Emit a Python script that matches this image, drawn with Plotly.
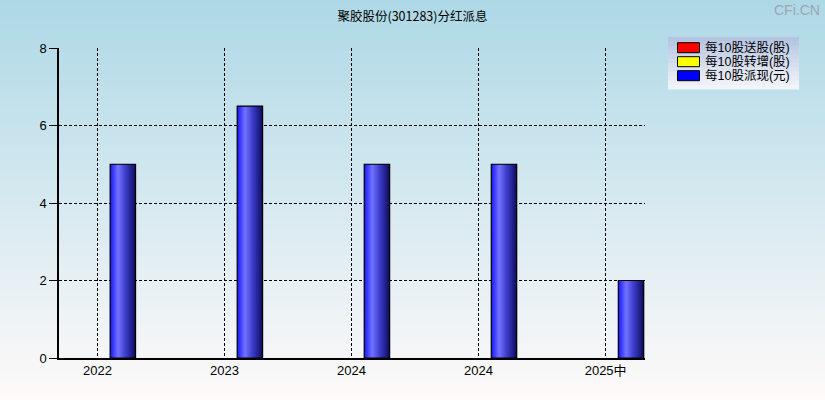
import plotly.graph_objects as go

# ---- data ----
categories = ["2022", "2023", "2024", "2024", "2025中"]
song_gu = [0, 0, 0, 0, 0]          # 每10股送股(股)
zhuan_zeng = [0, 0, 0, 0, 0]       # 每10股转增(股)
pai_xian = [5, 6.5, 5, 5, 2]       # 每10股派现(元)
y_ticks = [0, 2, 4, 6, 8]
title_text = "聚胶股份(301283)分红派息"
legend_names = ["每10股送股(股)", "每10股转增(股)", "每10股派现(元)"]

W, H = 825, 400
ML, MR, MT, MB = 59, 180, 48, 42
PW, PH = W - ML - MR, H - MT - MB

xs = list(range(len(categories)))
FONT = "Liberation Sans, Noto Sans CJK SC, sans-serif"

def lerp(c1, c2, t):
    return tuple(round(a + (b - a) * t) for a, b in zip(c1, c2))

def grad(stops, t):
    for (t0, c0), (t1, c1) in zip(stops, stops[1:]):
        if t <= t1:
            return lerp(c0, c1, (t - t0) / (t1 - t0) if t1 > t0 else 0)
    return stops[-1][1]

fig = go.Figure()

bw = 0.2
# zero-valued series (送股, 转增)
fig.add_trace(go.Bar(x=xs, y=song_gu, width=bw, offset=-0.3, marker_color="red",
                     marker_line_width=0, showlegend=False, name=legend_names[0]))
fig.add_trace(go.Bar(x=xs, y=zhuan_zeng, width=bw, offset=-0.1, marker_color="yellow",
                     marker_line_width=0, showlegend=False, name=legend_names[1]))

# 派现 bars with horizontal gradient (overlapping strips)
stops = [(0.0, (28, 28, 255)), (0.3, (115, 115, 255)), (0.6, (62, 62, 205)), (1.0, (16, 16, 100))]
N = 24
for i in range(N):
    t = i / (N - 1)
    c = grad(stops, t)
    off = 0.1 + bw * i / N
    fig.add_trace(go.Bar(x=xs, y=pai_xian, width=0.1 + bw - off, offset=off,
                         marker_color="rgb(%d,%d,%d)" % c, marker_line_width=0,
                         showlegend=False, hoverinfo="skip"))
fig.add_trace(go.Bar(x=xs, y=pai_xian, width=bw, offset=0.1, marker_color="rgba(0,0,0,0)",
                     marker_line_color="black", marker_line_width=1.2, showlegend=False,
                     name=legend_names[2]))

shapes = []
# background gradient bands (paper coords)
top_c, bot_c = (173, 216, 230), (255, 250, 250)
NB = 80
for i in range(NB):
    py0 = H * i / NB
    py1 = H * (i + 1) / NB + 0.6
    c = lerp(top_c, bot_c, (i + 0.5) / NB)
    shapes.append(dict(type="rect", xref="paper", yref="paper", layer="below",
                       x0=-ML / PW, x1=(W - ML) / PW,
                       y0=(H - MB - py1) / PH, y1=(H - MB - py0) / PH,
                       fillcolor="rgb(%d,%d,%d)" % c, line_width=0))

def px2x(px):
    return (px - ML) / PW

def px2y(py):
    return (H - MB - py) / PH

# legend box
lx0, lx1, ly0, ly1 = 668, 799, 37, 89
LB = 12
for i in range(LB):
    c = lerp((178, 195, 224), (246, 246, 250), (i + 0.5) / LB)
    a = ly0 + (ly1 - ly0) * i / LB
    b = ly0 + (ly1 - ly0) * (i + 1) / LB + 0.4
    shapes.append(dict(type="rect", xref="paper", yref="paper", layer="above",
                       x0=px2x(lx0), x1=px2x(lx1), y0=px2y(b), y1=px2y(a),
                       fillcolor="rgb(%d,%d,%d)" % c, line_width=0))
sw_colors = ["red", "yellow", "blue"]
annotations = []
for k, (name, col) in enumerate(zip(legend_names, sw_colors)):
    yc = 47.7 + 14 * k
    shapes.append(dict(type="rect", xref="paper", yref="paper", layer="above",
                       x0=px2x(677.5), x1=px2x(699.5), y0=px2y(yc + 5), y1=px2y(yc - 5),
                       fillcolor=col, line=dict(color="black", width=1)))
    annotations.append(dict(text=name, xref="paper", yref="paper", x=px2x(703), y=px2y(yc),
                            xanchor="left", yanchor="middle", showarrow=False,
                            font=dict(family=FONT, size=12.5, color="black")))

annotations.append(dict(text="CFi.CN", xref="paper", yref="paper", x=px2x(822), y=px2y(10),
                        xanchor="right", yanchor="middle", showarrow=False,
                        font=dict(family="Liberation Sans, sans-serif", size=14, color="#9aa6b0")))

fig.update_layout(
    width=W, height=H,
    margin=dict(l=ML, r=MR, t=MT, b=MB, pad=0),
    paper_bgcolor="rgb(255,250,250)",
    plot_bgcolor="rgba(0,0,0,0)",
    barmode="overlay",
    showlegend=False,
    title=dict(text=title_text, x=0.5, xref="container", y=1 - 17 / H, yanchor="middle",
               font=dict(family="Noto Sans CJK SC, sans-serif", size=12.5, color="black")),
    shapes=shapes,
    annotations=annotations,
    xaxis=dict(range=[-0.3026, 4.31], tickvals=xs, ticktext=categories,
               showgrid=True, gridcolor="black", griddash="3px,2px", gridwidth=1,
               showline=True, linecolor="black", linewidth=1.5, ticks="",
               tickfont=dict(family=FONT, size=13, color="black"), zeroline=False),
    yaxis=dict(range=[0, 8], tickvals=y_ticks, showgrid=True, gridcolor="black",
               griddash="3px,2px", gridwidth=1, showline=True, linecolor="black",
               linewidth=1.5, ticks="outside", ticklen=8, tickcolor="black",
               tickfont=dict(family=FONT, size=13, color="black"), zeroline=False),
)

fig.write_html("out.html", config={"displayModeBar": False},
               post_script="document.body.style.margin='0';document.body.style.overflow='hidden';")
